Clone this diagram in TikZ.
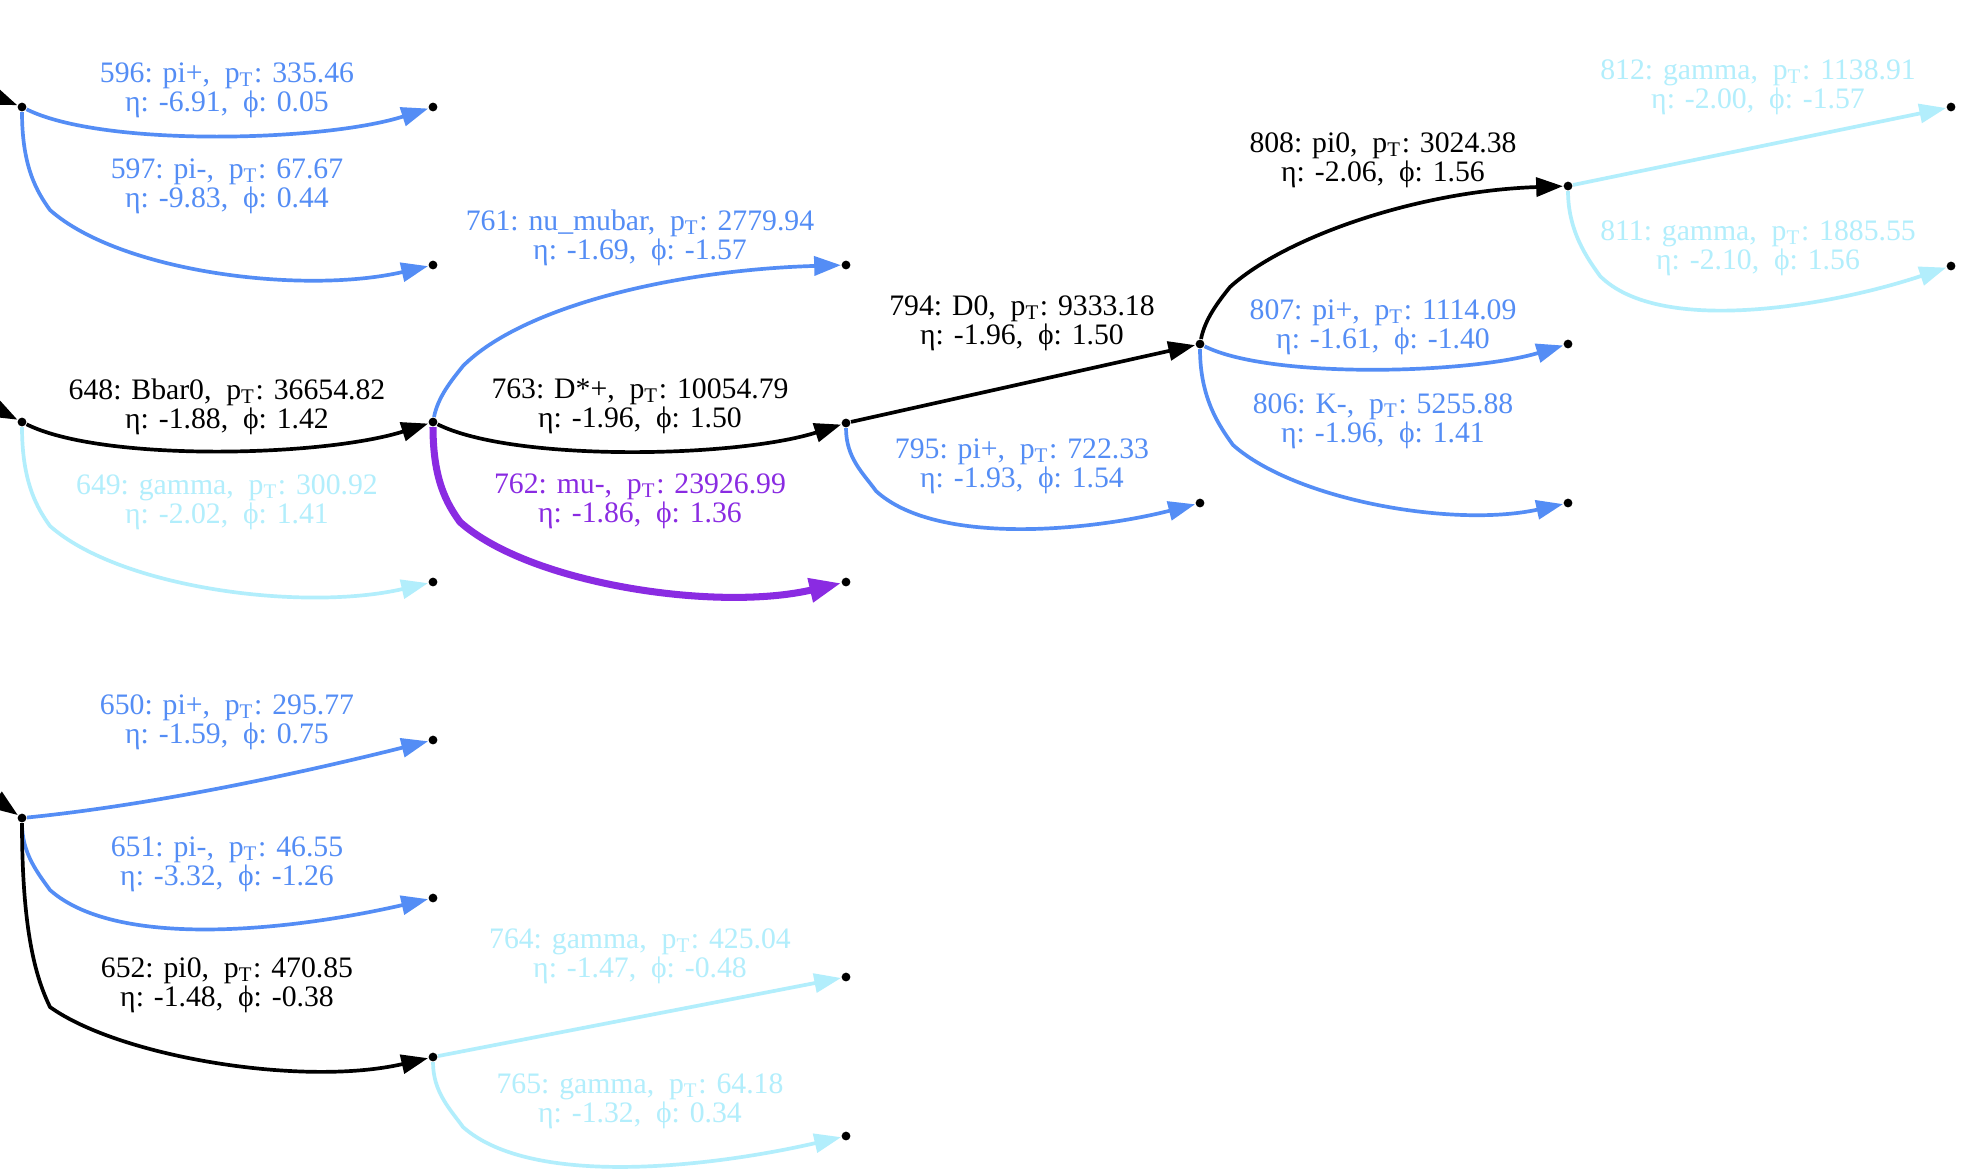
\documentclass[tikz,border=0pt]{standalone}
\usepackage{fontspec}
\setmainfont{Liberation Serif}
\usetikzlibrary{arrows.meta}

\definecolor{pblue}{RGB}{84,141,245}
\definecolor{pcyan}{RGB}{178,238,252}
\definecolor{pviolet}{RGB}{138,43,226}

\newcommand{\pinfo}[5]{#1: #2,~~p\textsubscript{T}: #3\\η: #4,~~ϕ: #5}

\tikzset{
  vtx/.style={circle, fill=black, inner sep=0pt, minimum size=2.5pt},
  edge/.style={line width=1.05pt, -{Triangle[length=7.6pt,width=5.4pt]}},
  muedge/.style={line width=2pt, -{Triangle[length=9pt,width=6.6pt]}},
  lbl/.style={font=\fontsize{8.45}{8.3}\selectfont, align=center, inner sep=0pt},
}

\begin{document}
\begin{tikzpicture}[x=0.01cm, y=-0.01cm]
   \useasboundingbox (0,0) rectangle (1983,1172);
   \fill[white] (0,0) rectangle (1983,1172);
   \clip (0,0) rectangle (1983,1172);

   % vertices of the decay tree
   \foreach \n/\x/\y in {vA/22/107, vB/22/422, vC/22/818,
       e596/433/107, e597/433/265, v648/433/422, e649/433/582,
       e650/433/740, e651/433/898, v652/433/1057,
       e761/846/265, v763/846/423, e762/846/582, e764/846/977, e765/846/1136,
       v794/1200/344, e795/1200/503,
       v808/1568/186, e807/1568/344, e806/1568/503,
       e812/1951/107, e811/1951/266}
     \node[vtx] (\n) at (\x,\y) {};

   % incoming edges from the left (cut off)
   \coordinate (inA) at (-60,75);
   \coordinate (inB) at (-60,380);
   \coordinate (inC) at (-60,760);
   \draw[edge] (inA) -- (vA);
   \draw[edge] (inB) -- (vB);
   \draw[edge] (inC) -- (vC);

   % first column
   \draw[edge, pblue] (vA) .. controls +(80,40) and +(-110,35) .. (e596);
   \draw[edge, pblue] (vA) .. controls +(0,60) and +(-13,-18) .. ++(28,103)
        .. controls +(70,62) and +(-130,30) .. (e597);
   \draw[edge] (vB) .. controls +(80,40) and +(-110,35) .. (v648);
   \draw[edge, pcyan] (vB) .. controls +(0,60) and +(-13,-18) .. ++(28,104)
        .. controls +(70,62) and +(-130,30) .. (e649);
   \draw[edge, pblue] (vC) .. controls +(150,-15) and +(-100,25) .. (e650);
   \draw[edge, pblue] (vC) .. controls +(0,35) and +(-13,-18) .. ++(28,72)
        .. controls +(70,62) and +(-130,30) .. (e651);
   \draw[edge] (vC) .. controls +(0,120) and +(-12,-25) .. ++(28,189)
        .. controls +(70,50) and +(-130,30) .. (v652);

   % second column
   \draw[edge, pblue] (v648) .. controls +(5,-25) and +(-12,15) .. ++(30,-56)
        .. controls +(60,-60) and +(-170,5) .. (e761);
   \draw[edge] (v648) .. controls +(80,40) and +(-110,35) .. (v763);
   \draw[muedge, pviolet] (v648) .. controls +(0,58) and +(-13,-18) .. ++(27,100)
        .. controls +(70,62) and +(-130,30) .. (e762);
   \draw[edge, pcyan] (v652) -- (e764);
   \draw[edge, pcyan] (v652) .. controls +(0,35) and +(-13,-18) .. ++(30,70)
        .. controls +(70,62) and +(-130,30) .. (e765);

   % third column
   \draw[edge] (v763) -- (v794);
   \draw[edge, pblue] (v763) .. controls +(0,35) and +(-13,-18) .. ++(30,68)
        .. controls +(60,55) and +(-110,28) .. (e795);

   % fourth column
   \draw[edge] (v794) .. controls +(5,-25) and +(-12,15) .. ++(30,-57)
        .. controls +(55,-50) and +(-150,5) .. (v808);
   \draw[edge, pblue] (v794) .. controls +(70,35) and +(-100,30) .. (e807);
   \draw[edge, pblue] (v794) .. controls +(0,55) and +(-13,-18) .. ++(33,101)
        .. controls +(62,55) and +(-115,25) .. (e806);

   % fifth column
   \draw[edge, pcyan] (v808) -- (e812);
   \draw[edge, pcyan] (v808) .. controls +(0,45) and +(-13,-18) .. ++(32,90)
        .. controls +(60,60) and +(-120,40) .. (e811);

   % particle labels
   \foreach \n/\m/\p/\e/\f/\c/\x/\y in {
       596/pi+/335.46/-6.91/0.05/pblue/227/90,
       597/pi-/67.67/-9.83/0.44/pblue/227/186,
       648/Bbar0/36654.82/-1.88/1.42/black/227/407,
       649/gamma/300.92/-2.02/1.41/pcyan/227/502,
       650/pi+/295.77/-1.59/0.75/pblue/227/722,
       651/pi-/46.55/-3.32/-1.26/pblue/227/864,
       652/pi0/470.85/-1.48/-0.38/black/227/985,
       653/pi+/580.94/-1.41/0.62/pblue/227/1203,
       761/nu\_mubar/2779.94/-1.69/-1.57/pblue/640/238,
       763/D*+/10054.79/-1.96/1.50/black/640/406,
       762/mu-/23926.99/-1.86/1.36/pviolet/640/501,
       764/gamma/425.04/-1.47/-0.48/pcyan/640/956,
       765/gamma/64.18/-1.32/0.34/pcyan/640/1101,
       794/D0/9333.18/-1.96/1.50/black/1022/323,
       795/pi+/722.33/-1.93/1.54/pblue/1022/466,
       808/pi0/3024.38/-2.06/1.56/black/1383/160,
       807/pi+/1114.09/-1.61/-1.40/pblue/1383/327,
       806/K-/5255.88/-1.96/1.41/pblue/1383/421,
       812/gamma/1138.91/-2.00/-1.57/pcyan/1758/87,
       811/gamma/1885.55/-2.10/1.56/pcyan/1758/248}
     \node[lbl, text=\c] (l\n) at (\x,\y) {\pinfo{\n}{\m}{\p}{\e}{\f}};
\end{tikzpicture}
\end{document}
